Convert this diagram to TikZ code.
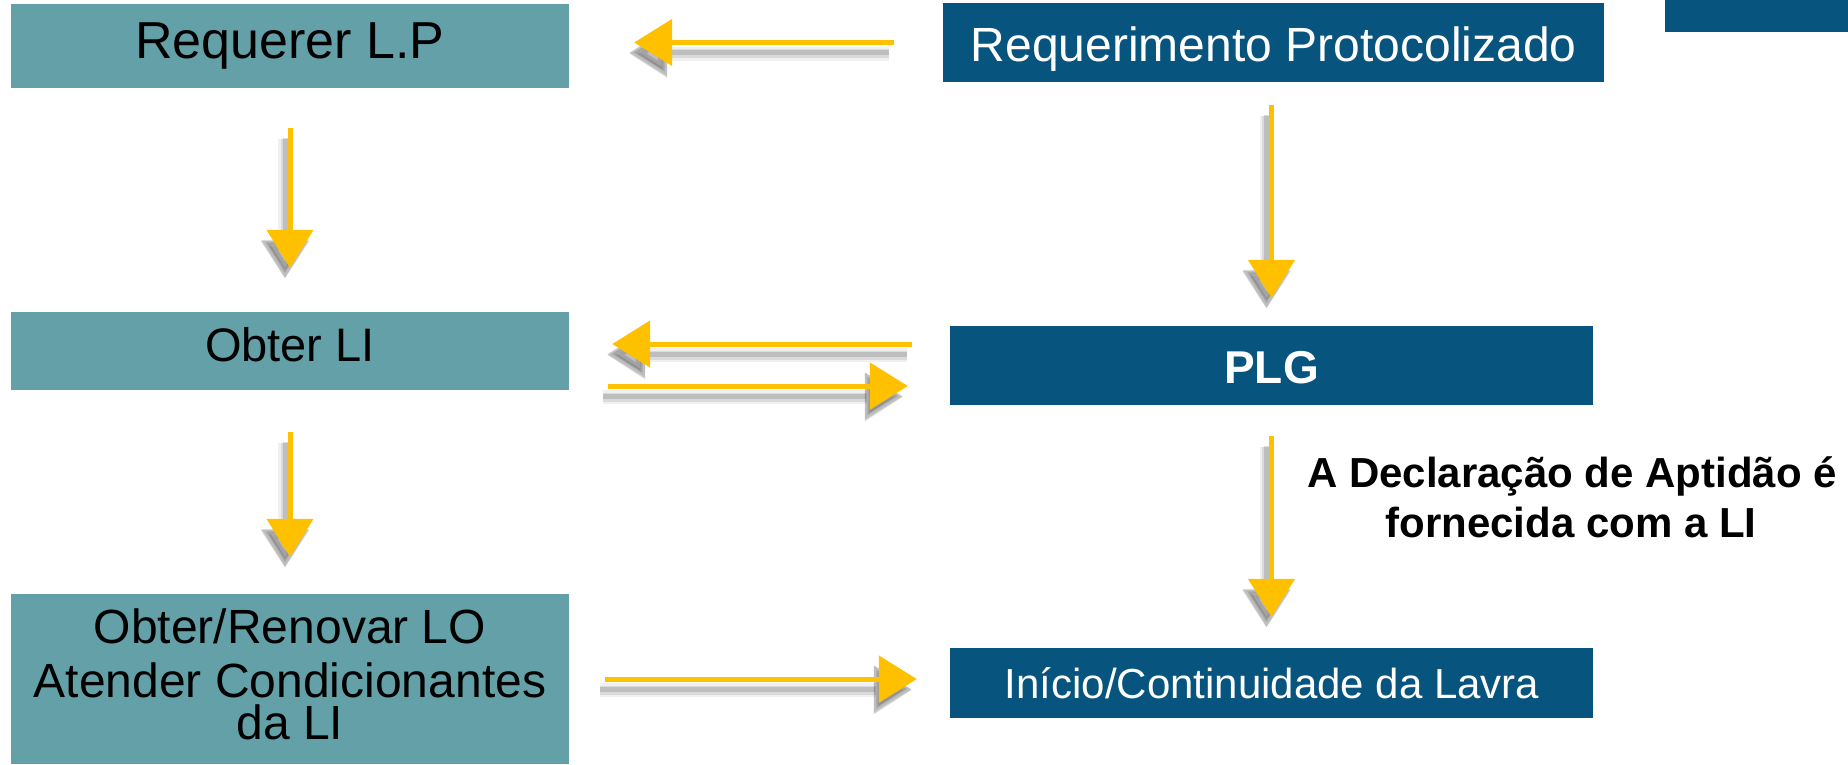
\documentclass[tikz,border=0pt]{standalone}
\usepackage{fontspec}
\setmainfont{Liberation Sans}
\usetikzlibrary{arrows.meta}
\definecolor{tealbox}{HTML}{63A0A8}
\definecolor{bluebox}{HTML}{07547F}
\definecolor{arrowyellow}{HTML}{FFC000}
\tikzset{
  lbox/.style={fill=tealbox, draw=none, inner sep=0pt, rectangle},
  rbox/.style={fill=bluebox, draw=none, inner sep=0pt, rectangle},
  txt/.style={inner sep=0pt, anchor=base},
  yarrow/.style={draw=arrowyellow, line width=5pt,
    -{Triangle[length=38pt,width=46pt]},
    preaction={draw=black, opacity=0.06, line width=14pt,
      transform canvas={shift={(-5pt,-11pt)}}},
    preaction={draw=black, opacity=0.09, line width=9pt,
      transform canvas={shift={(-5pt,-11pt)}}},
    preaction={draw=black, opacity=0.13, line width=5pt,
      transform canvas={shift={(-5pt,-10pt)}}}},
}
\begin{document}
\begin{tikzpicture}[x=1pt,y=-1pt]
\useasboundingbox (0,0) rectangle (1848,764);
% boxes
\node[lbox, minimum width=558pt, minimum height=84pt] (reql) at (290,46) {};
\node[lbox, minimum width=558pt, minimum height=78pt] (obli) at (290,351) {};
\node[lbox, minimum width=558pt, minimum height=170pt] (oblo) at (290,679) {};
\node[rbox, minimum width=661pt, minimum height=79pt] (reqp) at (1273.5,42.5) {};
\node[rbox, minimum width=643pt, minimum height=79pt] (plg) at (1271.5,365.5) {};
\node[rbox, minimum width=643pt, minimum height=70pt] (ini) at (1271.5,683) {};
\node[rbox, minimum width=183pt, minimum height=32pt] (corner) at (1756.5,16) {};
% texts
\node[txt] (treql) at (290,58) {\fontsize{52pt}{52pt}\selectfont Requerer L.P};
\node[txt] (tobli) at (290,361) {\fontsize{47pt}{47pt}\selectfont Obter LI};
\node[txt] (tobloa) at (290,643) {\fontsize{48pt}{48pt}\selectfont Obter/Renovar LO};
\node[txt] (toblob) at (290,697) {\fontsize{48pt}{48pt}\selectfont Atender Condicionantes};
\node[txt] (tobloc) at (290,739) {\fontsize{48pt}{48pt}\selectfont da LI};
\node[txt, text=white] (treqp) at (1273.75,61) {\fontsize{48pt}{48pt}\selectfont Requerimento Protocolizado};
\node[txt, text=white] (tplg) at (1271.5,383) {\fontsize{46pt}{46pt}\selectfont\bfseries PLG};
\node[txt, text=white] (tini) at (1272,698) {\fontsize{42pt}{42pt}\selectfont Início/Continuidade da Lavra};
\node[txt] (tlab1) at (1572,487) {\fontsize{42pt}{42pt}\selectfont\bfseries A Declaração de Aptidão é};
\node[txt] (tlab2) at (1571,537) {\fontsize{42pt}{42pt}\selectfont\bfseries fornecida com a LI};
% connectors
\draw[yarrow, shorten <=49pt, shorten >=65pt] (reqp.west) -- (reqp.west -| reql.east);
\draw[yarrow, shorten <=40pt, shorten >=44pt] (reql.south) -- (obli.north);
\draw[yarrow, shorten <=42pt, shorten >=37pt] (obli.south) -- (oblo.north);
\draw[yarrow, shorten <=23pt, shorten >=28pt] (plg.north |- reqp.south) -- (plg.north);
\draw[yarrow, shorten <=31pt, shorten >=31pt] (plg.south) -- (ini.north);
\draw[yarrow, shorten <=38pt, shorten >=43pt] ([yshift=21.5pt]plg.west) -- ([yshift=21.5pt]plg.west -| obli.east);
\draw[yarrow, shorten <=39pt, shorten >=42pt] ([yshift=-35pt]obli.east) -- ([yshift=-35pt]obli.east -| plg.west);
\draw[yarrow, shorten <=36pt, shorten >=33pt] (oblo.east) -- (oblo.east -| ini.west);
\end{tikzpicture}
\end{document}
